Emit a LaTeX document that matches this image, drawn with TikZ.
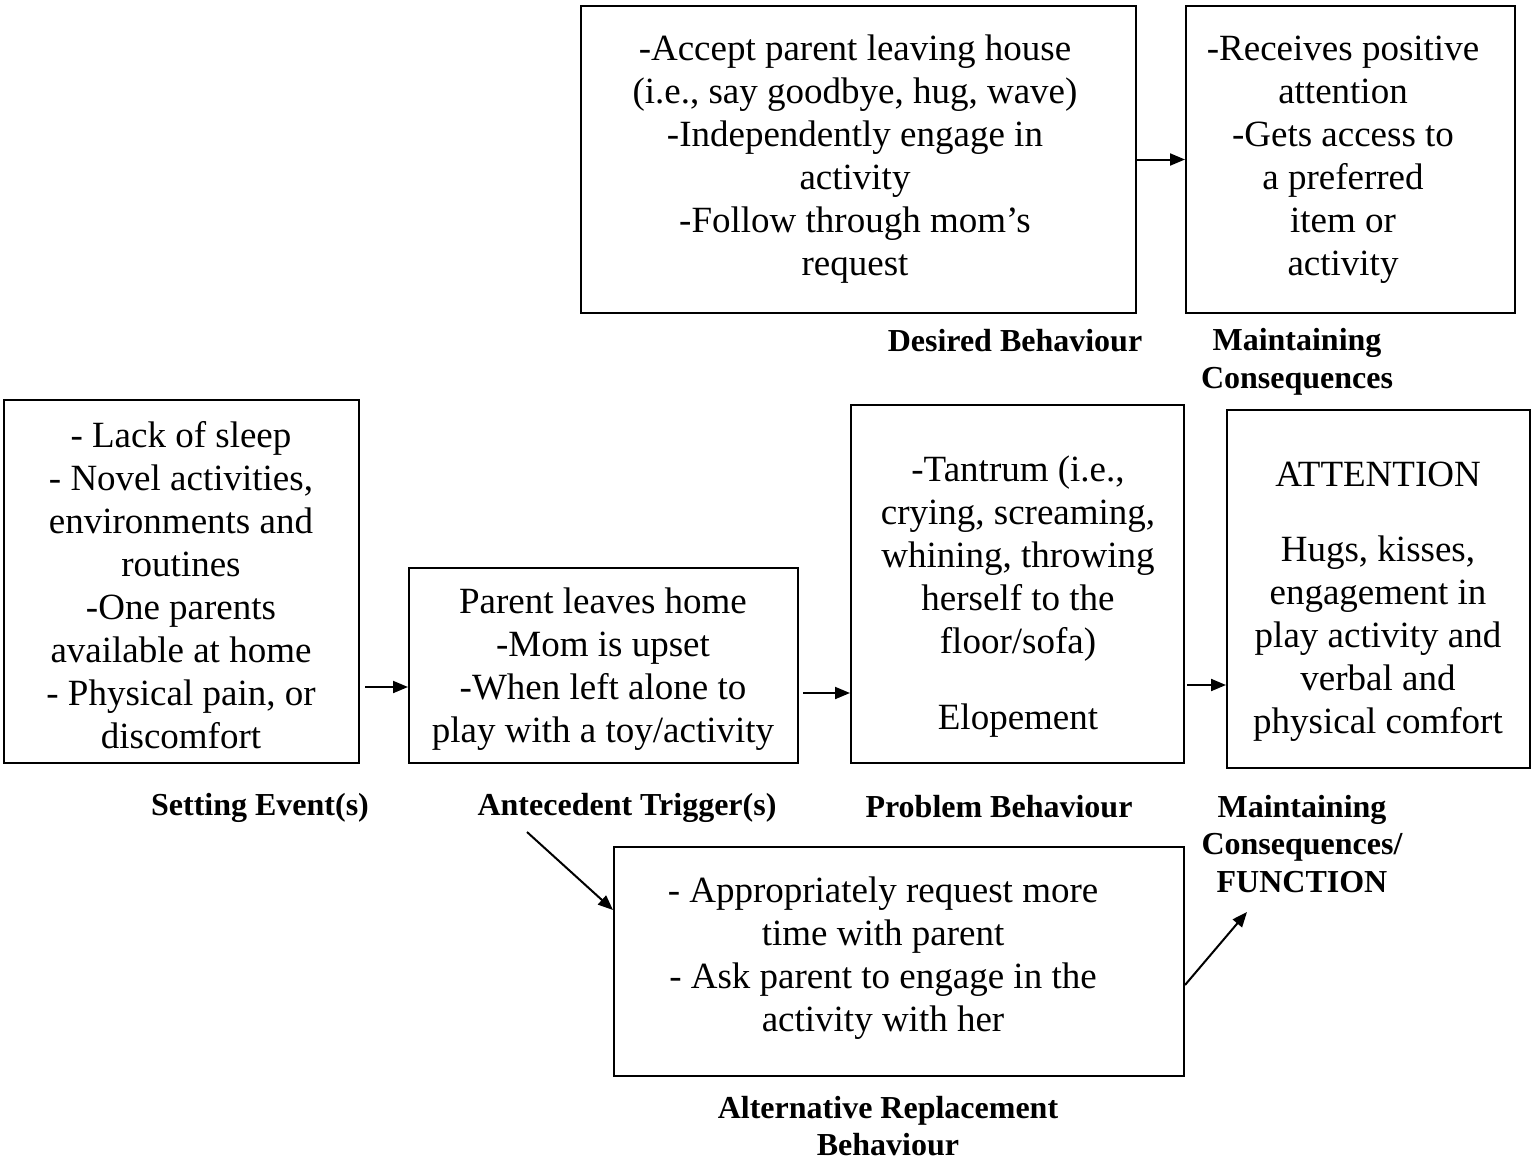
\documentclass[tikz,border=0pt]{standalone}
\usepackage{fontspec}
\setmainfont{Liberation Serif}
\usetikzlibrary{arrows.meta}
\begin{document}
\begin{tikzpicture}[x=1pt,y=-1pt,
  box/.style={draw,line width=2pt,inner sep=0pt,minimum width=#1},
  body/.style={align=center,inner sep=0pt,font=\fontsize{37}{43}\selectfont},
  lbl/.style={align=center,inner sep=0pt,font=\fontsize{32}{37.5}\selectfont\bfseries},
  arr/.style={line width=2pt,-{Triangle[length=15pt,width=12pt]}}]
\useasboundingbox (0,0) rectangle (1535,1163);
% boxes
\node[box=555pt,minimum height=307pt] (desired) at (858.5,159.5) {};
\node[box=329pt,minimum height=307pt] (maint) at (1350.5,159.5) {};
\node[box=355pt,minimum height=363pt] (setbox) at (181.5,581.5) {};
\node[box=389pt,minimum height=195pt] (ante) at (603.5,665.5) {};
\node[box=333pt,minimum height=358pt] (prob) at (1017.5,584) {};
\node[box=303pt,minimum height=358pt] (attn) at (1378.5,589) {};
\node[box=570pt,minimum height=229pt] (alt) at (899,961.5) {};
% box texts
\node[body] (tdesired) at (855,159.5) {-Accept parent leaving house\\(i.e., say goodbye, hug, wave)\\-Independently engage in\\activity\\-Follow through mom’s\\request};
\node[body] (tmaint) at (1343,160) {-Receives positive\\attention\\-Gets access to\\a preferred\\item or\\activity};
\node[body] (tset) at (181,585) {- Lack of sleep\\- Novel activities,\\environments and\\routines\\-One parents\\available at home\\- Physical pain, or\\discomfort};
\node[body] (tante) at (603,669) {Parent leaves home\\-Mom is upset\\-When left alone to\\play with a toy/activity};
\node[body] (tprob) at (1018,597) {-Tantrum (i.e.,\\crying, screaming,\\whining, throwing\\herself to the\\floor/sofa)\\[33pt]Elopement};
\node[body] (tattn) at (1378,602) {ATTENTION\\[32pt]Hugs, kisses,\\engagement in\\play activity and\\verbal and\\physical comfort};
\node[body] (talt) at (883,958) {- Appropriately request more\\time with parent\\- Ask parent to engage in the\\activity with her};
% labels
\node[lbl] (ldesired) at (1015,341) {Desired Behaviour};
\node[lbl] (lmaint) at (1297,362) {Maintaining\\Consequences};
\node[lbl] (lset) at (260,808) {Setting Event(s)};
\node[lbl] (lante) at (627,808) {Antecedent Trigger(s)};
\node[lbl] (lprob) at (999,807) {Problem Behaviour};
\node[lbl] (lfunc) at (1302,844) {Maintaining\\Consequences/\\FUNCTION};
\node[lbl] (lalt) at (888,1126) {Alternative Replacement\\Behaviour};
% connectors
\draw[arr] (desired.east) -- (maint.west);
\draw[arr,shorten <=5pt] ([yshift=-105.5pt]setbox.east) -- ([yshift=-21.5pt]ante.west);
\draw[arr,shorten <=4pt] ([yshift=-27.5pt]ante.east) -- ([yshift=-109pt]prob.west);
\draw[arr,shorten <=2pt] ([yshift=-101pt]prob.east) -- ([yshift=-96pt]attn.west);
\coordinate (d1) at (527,832);
\coordinate (d2) at (1247,912);
\draw[arr] (d1) -- ([yshift=51.5pt]alt.west);
\draw[arr] ([yshift=-23.5pt]alt.east) -- (d2);
\end{tikzpicture}
\end{document}
